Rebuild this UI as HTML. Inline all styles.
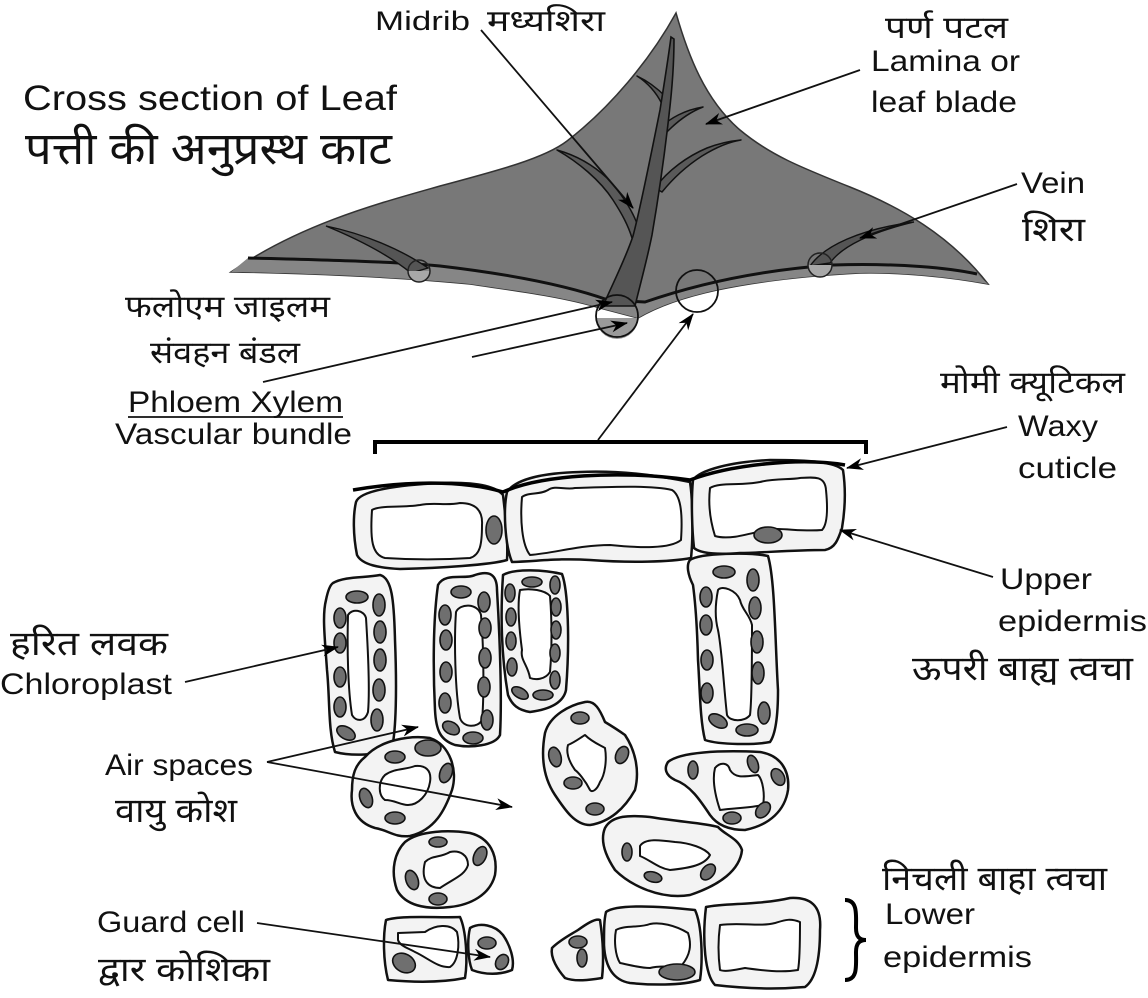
<!DOCTYPE html>
<html>
<head>
<meta charset="utf-8">
<style>
html,body{margin:0;padding:0;background:#fff;}
svg{display:block;}
text{font-family:"Liberation Sans","Noto Sans CJK SC",sans-serif;fill:#111;}
.cell{fill:#f3f3f3;stroke:#111;stroke-width:2.5;stroke-linejoin:round;}
.vac{fill:#fff;stroke:#111;stroke-width:2;stroke-linejoin:round;}
.cp{fill:#6f6f6f;stroke:#111;stroke-width:1.6;}
.ln{stroke:#111;stroke-width:1.8;fill:none;}
.br{fill:#5a5a5a;stroke:#111;stroke-width:1.5;stroke-linejoin:round;}
</style>
</head>
<body>
<svg width="1148" height="998" viewBox="0 0 1148 998" xmlns="http://www.w3.org/2000/svg">
<defs>
<marker id="ah" markerWidth="18" markerHeight="12" refX="16" refY="6" orient="auto" markerUnits="userSpaceOnUse">
<path d="M0,0 L17,6 L0,12 L5,6 Z" fill="#000"/>
</marker>
</defs>
<rect width="1148" height="998" fill="#fff"/>

<!-- LEAF -->
<path d="M231,272 C300,224 380,203 440,186 C500,170 545,158 567,141 C610,108 650,60 676,13 C688,55 705,100 740,130 C770,155 800,167 850,187 C900,207 950,235 988,284 C950,277 900,272 860,273 C800,276 750,283 717,290 C680,298 655,308 638,318 L600,308 C560,296 510,290 470,284 C400,277 300,273 231,272 Z" fill="#787878" stroke="#333" stroke-width="1.5"/>
<path d="M248,258 C330,260 400,262 440,266 C500,273 560,283 608,300 L645,302 C700,283 760,270 833,265 C900,263 950,268 977,274 L988,284 C950,277 900,272 860,273 C800,276 750,283 717,290 C680,298 655,308 638,318 L600,308 C560,296 510,290 470,284 C400,277 300,273 231,272 Z" fill="#868686"/>
<path d="M248,258 C330,260 400,262 440,266 C500,273 560,283 608,300 L645,302 C700,283 760,270 833,265 C900,263 950,268 977,274" fill="none" stroke="#111" stroke-width="3"/>

<!-- branches -->
<path class="br" d="M557,150 C578,162 600,180 613,200 C622,214 628,225 632,238 L640,232 C634,212 622,194 607,178 C592,164 575,155 557,150 Z"/>
<path class="br" d="M655,188 C668,170 688,156 707,148 C720,143 730,141 741,140 C728,142 715,148 702,156 C688,165 675,176 662,192 Z"/>
<path class="br" d="M660,128 C670,118 685,110 703,107 C690,112 678,120 664,135 Z"/>
<path class="br" d="M662,104 C656,92 648,83 637,76 C650,82 659,90 666,97 Z"/>
<!-- midrib -->
<path d="M603,306 C612,285 625,260 633,236 C640,210 650,160 660,110 C664,85 668,60 671,37 L674,39 C674,60 672,90 669,115 C664,160 658,200 652,235 C647,260 640,285 635,306 Z" fill="#555" stroke="#111" stroke-width="1.6"/>
<!-- side veins -->
<path d="M326,226 C365,234 402,250 428,268 L411,273 C390,256 360,240 326,226 Z" fill="#555" stroke="#111" stroke-width="1.4"/>
<path d="M914,222 C872,232 842,246 830,263 L810,266 C824,246 860,229 914,222 Z" fill="#555" stroke="#111" stroke-width="1.4"/>

<!-- circles -->
<path d="M408,271 A11,11 0 0 0 430,271 Z" fill="#a8a8a8"/>
<circle cx="419" cy="271" r="11" fill="none" stroke="#222" stroke-width="1.5"/>
<path d="M808,265 A12,12 0 0 0 832,265 Z" fill="#a8a8a8"/>
<circle cx="820" cy="265" r="12" fill="none" stroke="#222" stroke-width="1.5"/>
<path d="M596,318 A21,21 0 0 0 638,318 Z" fill="#9a9a9a"/>
<circle cx="617" cy="316" r="21" fill="none" stroke="#111" stroke-width="1.8"/>
<circle cx="697" cy="291" r="21" fill="none" stroke="#111" stroke-width="1.8"/>

<!-- leaf arrows -->
<line class="ln" x1="481" y1="30" x2="633" y2="208" marker-end="url(#ah)"/>
<line class="ln" x1="860" y1="70" x2="706" y2="124" marker-end="url(#ah)"/>
<line class="ln" x1="1017" y1="184" x2="860" y2="238" marker-end="url(#ah)"/>
<line class="ln" x1="263" y1="382" x2="612" y2="302" marker-end="url(#ah)"/>
<line class="ln" x1="472" y1="357" x2="627" y2="323" marker-end="url(#ah)"/>
<line class="ln" x1="598" y1="440" x2="693" y2="314" marker-end="url(#ah)"/>

<!-- bracket -->
<path d="M375,454 L375,442 L866,442 L866,454" fill="none" stroke="#000" stroke-width="4"/>

<!-- UPPER EPIDERMIS -->
<path class="cell" d="M356,502 C360,490 400,485 440,483 C470,482 495,485 503,495 C506,520 508,545 507,560 C490,565 440,568 400,569 C380,568 362,565 357,555 C353,535 353,515 356,502 Z"/>
<path class="vac" d="M372,510 C380,505 400,508 420,505 C435,502 445,506 460,503 C475,503 483,510 482,525 C482,545 480,555 470,558 C440,560 415,560 385,558 C372,555 370,540 372,510 Z"/>
<path class="cell" d="M507,492 C515,480 540,473 580,472 C630,470 670,478 690,482 C693,500 693,540 691,558 C670,562 630,563 590,560 C560,558 540,561 512,562 C505,545 503,510 507,492 Z"/>
<path class="vac" d="M522,497 C528,492 540,495 548,490 C555,485 565,490 575,488 C610,487 650,485 672,490 C680,495 683,510 681,540 C670,549 640,548 610,545 C580,545 555,553 530,555 C522,545 520,520 522,497 Z"/>
<path class="cell" d="M693,480 C700,470 730,462 770,460 C810,460 835,462 843,470 C846,490 845,510 842,528 C838,540 835,548 825,550 C790,550 760,553 740,553 C715,555 700,553 694,548 C692,530 691,500 693,480 Z"/>
<path class="vac" d="M710,488 C720,482 740,486 760,482 C775,478 790,480 800,478 C815,477 825,476 826,490 C828,510 827,525 822,530 C800,532 780,527 765,530 C745,535 728,540 715,536 C710,520 708,505 710,488 Z"/>
<path d="M353,490 C400,482 460,479 503,492 C540,475 620,470 690,480 C730,465 800,457 845,465" fill="none" stroke="#000" stroke-width="3.5"/>
<ellipse class="cp" cx="494" cy="530" rx="8" ry="14"/>
<ellipse class="cp" cx="768" cy="535" rx="14" ry="8"/>

<!-- PALISADE -->
<path class="cell" d="M333,583 C345,576 365,578 380,575 C392,578 394,600 395,640 C397,690 396,730 392,748 C380,756 350,756 335,752 C328,730 330,700 327,670 C325,640 322,615 326,600 C328,590 330,585 333,583 Z"/>
<path class="vac" d="M348,615 C352,608 364,610 366,618 C368,650 370,690 368,712 C365,722 356,722 352,715 C348,690 347,650 348,615 Z"/>
<ellipse class="cp" cx="357" cy="597" rx="11" ry="6"/>
<ellipse class="cp" cx="340" cy="618" rx="6" ry="10"/>
<ellipse class="cp" cx="340" cy="643" rx="6" ry="10"/>
<ellipse class="cp" cx="340" cy="677" rx="6" ry="10"/>
<ellipse class="cp" cx="340" cy="707" rx="6" ry="10"/>
<ellipse class="cp" cx="379" cy="605" rx="6" ry="11"/>
<ellipse class="cp" cx="380" cy="632" rx="6" ry="11"/>
<ellipse class="cp" cx="380" cy="660" rx="6" ry="11"/>
<ellipse class="cp" cx="379" cy="690" rx="6" ry="11"/>
<ellipse class="cp" cx="377" cy="720" rx="6" ry="11"/>
<ellipse class="cp" cx="346" cy="733" rx="10" ry="6" transform="rotate(30 346 733)"/>

<path class="cell" d="M438,585 C445,572 465,580 475,575 C490,570 497,575 497,590 C500,640 502,700 500,735 C495,746 470,748 455,745 C440,740 436,730 435,710 C433,670 433,620 438,585 Z"/>
<path class="vac" d="M456,612 C460,603 478,603 481,615 C484,650 484,700 482,720 C478,728 463,728 460,718 C455,690 454,640 456,612 Z"/>
<ellipse class="cp" cx="461" cy="592" rx="10" ry="6"/>
<ellipse class="cp" cx="445" cy="615" rx="6" ry="10"/>
<ellipse class="cp" cx="446" cy="640" rx="6" ry="10"/>
<ellipse class="cp" cx="446" cy="672" rx="6" ry="10"/>
<ellipse class="cp" cx="445" cy="703" rx="6" ry="10"/>
<ellipse class="cp" cx="484" cy="602" rx="6" ry="10"/>
<ellipse class="cp" cx="485" cy="628" rx="6" ry="10"/>
<ellipse class="cp" cx="485" cy="658" rx="6" ry="10"/>
<ellipse class="cp" cx="484" cy="687" rx="6" ry="10"/>
<ellipse class="cp" cx="487" cy="720" rx="6" ry="10"/>
<ellipse class="cp" cx="451" cy="728" rx="9" ry="6" transform="rotate(30 451 728)"/>
<ellipse class="cp" cx="473" cy="738" rx="10" ry="6"/>

<path class="cell" d="M503,575 C515,568 545,570 562,574 C568,590 570,640 566,690 C563,705 545,710 530,712 C518,710 512,705 508,695 C502,660 500,620 503,575 Z"/>
<path class="vac" d="M520,590 C530,588 545,590 550,596 C552,620 552,650 550,672 C545,680 535,680 530,678 C528,665 520,660 522,650 C518,620 518,600 520,590 Z"/>
<ellipse class="cp" cx="532" cy="582" rx="10" ry="5"/>
<ellipse class="cp" cx="510" cy="593" rx="5" ry="9"/>
<ellipse class="cp" cx="511" cy="617" rx="5" ry="9"/>
<ellipse class="cp" cx="511" cy="641" rx="5" ry="9"/>
<ellipse class="cp" cx="512" cy="667" rx="5" ry="9"/>
<ellipse class="cp" cx="555" cy="585" rx="5" ry="9"/>
<ellipse class="cp" cx="556" cy="607" rx="5" ry="9"/>
<ellipse class="cp" cx="556" cy="630" rx="5" ry="9"/>
<ellipse class="cp" cx="555" cy="653" rx="5" ry="9"/>
<ellipse class="cp" cx="555" cy="680" rx="5" ry="9"/>
<ellipse class="cp" cx="520" cy="693" rx="9" ry="5" transform="rotate(30 520 693)"/>
<ellipse class="cp" cx="543" cy="695" rx="10" ry="5"/>

<path class="cell" d="M690,560 C700,553 750,552 768,556 C775,580 775,640 778,690 C778,720 775,735 770,742 C755,745 720,745 705,740 C700,720 700,690 698,660 C697,620 695,600 693,585 C688,575 686,565 690,560 Z"/>
<path class="vac" d="M718,590 C722,585 736,590 740,600 C742,610 750,615 752,625 C752,660 752,700 750,715 C745,722 730,722 727,715 C724,690 722,650 718,630 C714,615 716,600 718,590 Z"/>
<ellipse class="cp" cx="724" cy="572" rx="11" ry="6"/>
<ellipse class="cp" cx="706" cy="597" rx="6" ry="10"/>
<ellipse class="cp" cx="706" cy="625" rx="6" ry="10"/>
<ellipse class="cp" cx="707" cy="660" rx="6" ry="10"/>
<ellipse class="cp" cx="707" cy="693" rx="6" ry="10"/>
<ellipse class="cp" cx="753" cy="580" rx="6" ry="11"/>
<ellipse class="cp" cx="755" cy="608" rx="6" ry="11"/>
<ellipse class="cp" cx="757" cy="642" rx="6" ry="11"/>
<ellipse class="cp" cx="758" cy="673" rx="6" ry="11"/>
<ellipse class="cp" cx="764" cy="713" rx="6" ry="11"/>
<ellipse class="cp" cx="718" cy="721" rx="10" ry="6" transform="rotate(30 718 721)"/>
<ellipse class="cp" cx="747" cy="730" rx="11" ry="6"/>

<!-- SPONGY -->
<path class="cell" d="M365,757 C380,740 410,735 430,738 C450,745 458,770 452,790 C445,810 435,830 410,836 C395,838 388,830 375,828 C355,822 350,805 352,790 C352,775 355,765 365,757 Z"/>
<path class="vac" d="M385,775 C395,768 405,770 415,766 C425,765 432,770 430,782 C428,795 418,805 408,805 C400,805 395,800 385,800 C378,795 378,782 385,775 Z"/>
<ellipse class="cp" cx="428" cy="748" rx="13" ry="8"/>
<ellipse class="cp" cx="395" cy="757" rx="10" ry="6"/>
<ellipse class="cp" cx="446" cy="773" rx="6" ry="10" transform="rotate(20 446 773)"/>
<ellipse class="cp" cx="366" cy="798" rx="6" ry="10" transform="rotate(-20 366 798)"/>
<ellipse class="cp" cx="395" cy="818" rx="10" ry="6"/>

<path class="cell" d="M405,842 C420,830 450,830 470,833 C490,838 498,855 495,875 C490,895 470,905 450,907 C425,910 405,905 397,890 C390,870 395,852 405,842 Z"/>
<path class="vac" d="M425,862 C432,855 440,858 450,852 C460,850 468,855 468,865 C465,875 455,878 440,888 C430,888 420,882 425,862 Z"/>
<ellipse class="cp" cx="438" cy="842" rx="9" ry="5"/>
<ellipse class="cp" cx="480" cy="856" rx="6" ry="10" transform="rotate(25 480 856)"/>
<ellipse class="cp" cx="412" cy="880" rx="6" ry="10" transform="rotate(-20 412 880)"/>
<ellipse class="cp" cx="438" cy="899" rx="9" ry="6"/>

<path class="cell" d="M545,733 C550,715 570,705 585,702 C595,700 600,710 605,722 C610,725 618,730 625,735 C635,750 640,770 635,790 C625,808 610,822 590,825 C575,825 565,810 555,795 C545,780 540,760 545,733 Z"/>
<path class="vac" d="M568,745 C575,742 580,738 585,735 C592,742 600,745 605,748 C607,760 605,775 600,782 C597,790 592,793 590,790 C585,780 578,772 575,770 C568,760 566,752 568,745 Z"/>
<ellipse class="cp" cx="580" cy="718" rx="9" ry="6"/>
<ellipse class="cp" cx="555" cy="757" rx="6" ry="10" transform="rotate(-15 555 757)"/>
<ellipse class="cp" cx="622" cy="755" rx="6" ry="9" transform="rotate(25 622 755)"/>
<ellipse class="cp" cx="573" cy="783" rx="9" ry="6"/>
<ellipse class="cp" cx="595" cy="809" rx="9" ry="6"/>

<path class="cell" d="M668,762 C680,752 720,750 760,752 C780,755 790,770 788,790 C785,810 770,825 745,830 C725,830 715,822 710,815 C700,800 690,785 675,780 C665,775 664,768 668,762 Z"/>
<path class="vac" d="M715,768 C720,762 728,762 730,770 C735,778 742,777 758,775 C763,780 765,795 763,805 C750,808 735,808 720,810 C715,795 712,780 715,768 Z"/>
<ellipse class="cp" cx="693" cy="770" rx="5" ry="9"/>
<ellipse class="cp" cx="753" cy="764" rx="5" ry="9" transform="rotate(-20 753 764)"/>
<ellipse class="cp" cx="778" cy="777" rx="6" ry="9" transform="rotate(-30 778 777)"/>
<ellipse class="cp" cx="763" cy="810" rx="6" ry="9" transform="rotate(40 763 810)"/>
<ellipse class="cp" cx="732" cy="818" rx="9" ry="6"/>

<path class="cell" d="M605,828 C612,815 630,815 650,817 C680,822 705,823 718,827 C725,835 738,838 742,850 C740,870 720,885 690,895 C660,900 630,885 615,870 C605,855 600,840 605,828 Z"/>
<path class="vac" d="M640,846 C645,838 660,840 675,842 C690,843 705,848 710,855 C705,865 690,868 670,870 C658,868 650,860 640,856 Z"/>
<ellipse class="cp" cx="627" cy="852" rx="5" ry="9"/>
<ellipse class="cp" cx="653" cy="877" rx="9" ry="5" transform="rotate(15 653 877)"/>
<ellipse class="cp" cx="708" cy="872" rx="6" ry="9" transform="rotate(40 708 872)"/>

<!-- LOWER EPIDERMIS -->
<path class="cell" d="M386,920 C400,915 440,918 460,917 C466,930 468,960 465,978 C440,983 410,982 388,980 C383,960 383,935 386,920 Z"/>
<path class="vac" d="M398,933 L425,932 C435,925 450,923 457,932 C460,945 458,962 450,967 C438,968 428,958 415,952 C408,948 400,946 398,940 Z"/>
<ellipse class="cp" cx="404" cy="963" rx="12" ry="9" transform="rotate(30 404 963)"/>
<path class="cell" d="M470,928 C480,922 495,925 503,935 C510,945 515,960 512,970 C500,975 485,975 472,970 C468,960 467,940 470,928 Z"/>
<ellipse class="cp" cx="487" cy="943" rx="9" ry="6"/>
<ellipse class="cp" cx="502" cy="962" rx="6" ry="8" transform="rotate(30 502 962)"/>
<path class="cell" d="M552,948 C560,940 570,935 578,930 C585,925 595,918 600,920 C603,940 604,960 602,978 C590,980 575,982 565,978 C558,970 550,958 552,948 Z"/>
<ellipse class="cp" cx="578" cy="942" rx="9" ry="6"/>
<ellipse class="cp" cx="582" cy="958" rx="5" ry="9"/>
<path class="cell" d="M606,912 C615,905 650,905 695,910 C702,925 703,960 700,980 C680,986 650,985 630,983 C612,980 605,965 604,945 C604,930 604,920 606,912 Z"/>
<path class="vac" d="M616,930 C625,925 640,928 650,924 C660,922 675,925 688,933 C692,945 690,955 682,965 C670,968 660,965 650,968 C640,968 630,965 620,963 C615,955 614,940 616,930 Z"/>
<ellipse class="cp" cx="677" cy="972" rx="18" ry="8"/>
<path class="cell" d="M706,907 C725,903 760,905 790,898 C810,897 822,905 820,930 C820,960 815,980 805,987 C770,990 740,988 715,985 C705,975 702,940 706,907 Z"/>
<path class="vac" d="M720,925 C740,922 760,927 775,923 C785,920 790,918 800,922 C800,940 800,960 798,970 C780,973 760,970 745,968 C735,970 725,972 720,970 C718,955 718,940 720,925 Z"/>

<!-- brace -->
<path d="M845,900 C858,900 856,915 856,928 C856,936 859,940 866,940 C859,940 856,944 856,952 C856,966 858,980 845,980" fill="none" stroke="#000" stroke-width="4"/>

<!-- lower arrows -->
<line class="ln" x1="1007" y1="427" x2="847" y2="468" marker-end="url(#ah)"/>
<line class="ln" x1="993" y1="577" x2="840" y2="530" marker-end="url(#ah)"/>
<line class="ln" x1="185" y1="682" x2="338" y2="647" marker-end="url(#ah)"/>
<line class="ln" x1="267" y1="762" x2="418" y2="727" marker-end="url(#ah)"/>
<line class="ln" x1="267" y1="762" x2="512" y2="807" marker-end="url(#ah)"/>
<line class="ln" x1="257" y1="923" x2="490" y2="957" marker-end="url(#ah)"/>

<!-- TEXT -->
<text x="23" y="110" font-size="35" textLength="374" lengthAdjust="spacingAndGlyphs">Cross section of Leaf</text>
<text x="25" y="164" font-size="45" textLength="367" lengthAdjust="spacingAndGlyphs">पत्ती की अनुप्रस्थ काट</text>
<text x="375" y="30" font-size="27" textLength="95" lengthAdjust="spacingAndGlyphs">Midrib</text>
<text x="487" y="31" font-size="30" textLength="118" lengthAdjust="spacingAndGlyphs">मध्यशिरा</text>
<text x="885" y="38" font-size="31" textLength="123" lengthAdjust="spacingAndGlyphs">पर्ण पटल</text>
<text x="871" y="71" font-size="30" textLength="149" lengthAdjust="spacingAndGlyphs">Lamina or</text>
<text x="871" y="112" font-size="30" textLength="146" lengthAdjust="spacingAndGlyphs">leaf blade</text>
<text x="1021" y="193" font-size="30" textLength="64" lengthAdjust="spacingAndGlyphs">Vein</text>
<text x="1022" y="241" font-size="34" textLength="63" lengthAdjust="spacingAndGlyphs">शिरा</text>
<text x="125" y="317" font-size="31" textLength="205" lengthAdjust="spacingAndGlyphs">फलोएम जाइलम</text>
<text x="150" y="363" font-size="31" textLength="150" lengthAdjust="spacingAndGlyphs">संवहन बंडल</text>
<text x="128" y="412" font-size="30" textLength="215" lengthAdjust="spacingAndGlyphs">Phloem Xylem</text>
<line x1="128" y1="417" x2="343" y2="417" stroke="#111" stroke-width="1.8"/>
<text x="115" y="444" font-size="30" textLength="237" lengthAdjust="spacingAndGlyphs">Vascular bundle</text>
<text x="940" y="393" font-size="31" textLength="185" lengthAdjust="spacingAndGlyphs">मोमी क्यूटिकल</text>
<text x="1018" y="436" font-size="30" textLength="80" lengthAdjust="spacingAndGlyphs">Waxy</text>
<text x="1018" y="478" font-size="30" textLength="99" lengthAdjust="spacingAndGlyphs">cuticle</text>
<text x="1000" y="589" font-size="30" textLength="92" lengthAdjust="spacingAndGlyphs">Upper</text>
<text x="998" y="631" font-size="30" textLength="149" lengthAdjust="spacingAndGlyphs">epidermis</text>
<text x="912" y="680" font-size="34" textLength="221" lengthAdjust="spacingAndGlyphs">ऊपरी बाह्य त्वचा</text>
<text x="10" y="655" font-size="34" textLength="158" lengthAdjust="spacingAndGlyphs">हरित लवक</text>
<text x="0" y="694" font-size="30" textLength="172" lengthAdjust="spacingAndGlyphs">Chloroplast</text>
<text x="105" y="775" font-size="30" textLength="148" lengthAdjust="spacingAndGlyphs">Air spaces</text>
<text x="115" y="822" font-size="34" textLength="122" lengthAdjust="spacingAndGlyphs">वायु कोश</text>
<text x="97" y="932" font-size="30" textLength="148" lengthAdjust="spacingAndGlyphs">Guard cell</text>
<text x="98" y="981" font-size="34" textLength="172" lengthAdjust="spacingAndGlyphs">द्वार कोशिका</text>
<text x="882" y="890" font-size="34" textLength="225" lengthAdjust="spacingAndGlyphs">निचली बाहा त्वचा</text>
<text x="885" y="924" font-size="30" textLength="90" lengthAdjust="spacingAndGlyphs">Lower</text>
<text x="883" y="967" font-size="30" textLength="149" lengthAdjust="spacingAndGlyphs">epidermis</text>
</svg>
</body>
</html>
